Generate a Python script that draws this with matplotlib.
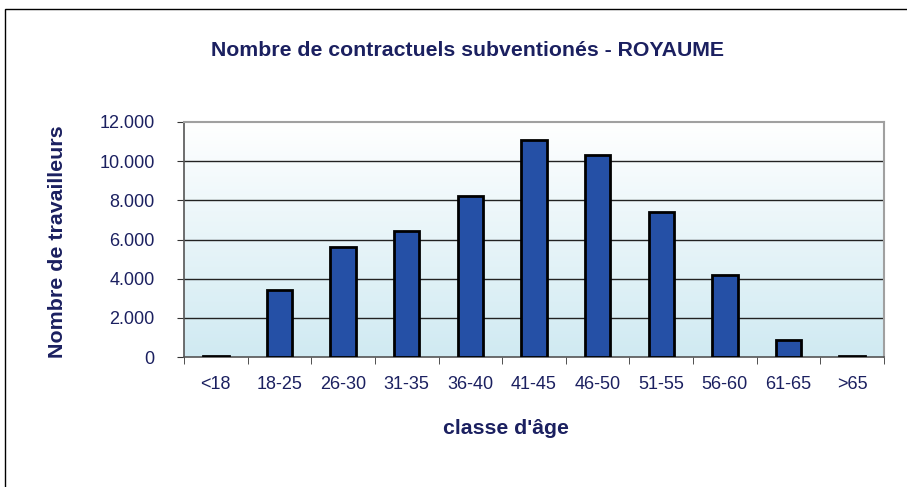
import numpy as np
import matplotlib
matplotlib.use("Agg")
import matplotlib.pyplot as plt
from matplotlib.colors import LinearSegmentedColormap
from matplotlib.patches import Rectangle

classes = ["<18", "18-25", "26-30", "31-35", "36-40", "41-45",
           "46-50", "51-55", "56-60", "61-65", ">65"]
travailleurs = [30, 3420, 5610, 6430, 8220, 11080, 10320, 7390, 4200, 870, 30]
yticks = [0, 2000, 4000, 6000, 8000, 10000, 12000]
ylabels = ["0", "2.000", "4.000", "6.000", "8.000", "10.000", "12.000"]

navy = "#1b2060"
plt.rcParams["font.family"] = ["Liberation Sans", "DejaVu Sans"]

fig = plt.figure(figsize=(9.07, 4.87), dpi=100)
fig.patches.append(Rectangle((5/907, -0.1), 2, 1.1 - 9/487, transform=fig.transFigure,
                             fill=False, edgecolor="black", linewidth=1.0))

ax = fig.add_axes([184/907, 1 - 357/487, 700/907, 235/487])
x = np.arange(len(classes))

# degrade bleu clair (bas) -> blanc (haut)
cmap = LinearSegmentedColormap.from_list("fond", ["#d0eaf2", "#ffffff"])
grad = np.linspace(0, 1, 256).reshape(-1, 1)
ax.imshow(grad, cmap=cmap, aspect="auto", origin="lower", extent=(0, 1, 0, 1),
          transform=ax.transAxes, zorder=0)

for t in yticks[1:-1]:
    ax.axhline(t, color="#222222", linewidth=1.0, zorder=1)

ax.bar(x, travailleurs, width=0.4, color="#2550a6", edgecolor="black",
       linewidth=2.0, zorder=3)

ax.set_xlim(-0.5, len(classes) - 0.5)
ax.set_ylim(0, 12000)
ax.set_yticks(yticks)
ax.set_yticklabels(ylabels)
ax.set_xticks(x)
ax.set_xticklabels(classes)
ax.set_xticks(np.arange(-0.5, len(classes)), minor=True)
ax.tick_params(axis="x", which="major", length=0, pad=14, labelsize=13, labelcolor=navy)
ax.tick_params(axis="x", which="minor", length=5, direction="out", color="#333333")
ax.tick_params(axis="y", length=5, direction="out", color="#333333", pad=16,
               labelsize=13, labelcolor=navy)

for s in ["top", "right"]:
    ax.spines[s].set_color("#a0a0a0")
    ax.spines[s].set_linewidth(1.5)
for s in ["left", "bottom"]:
    ax.spines[s].set_color("#555555")
    ax.spines[s].set_linewidth(1.2)

fig.text(467/907, 1 - 51/487, "Nombre de contractuels subventionés - ROYAUME",
         ha="center", va="center", fontsize=15.3, fontweight="bold", color=navy)
fig.text(58/907, 1 - 242/487, "Nombre de travailleurs", rotation=90,
         ha="center", va="center", fontsize=15.4, fontweight="bold", color=navy)
fig.text(506/907, 1 - 428/487, "classe d'âge",
         ha="center", va="center", fontsize=15.3, fontweight="bold", color=navy)

fig.savefig("out.png", dpi=100)
